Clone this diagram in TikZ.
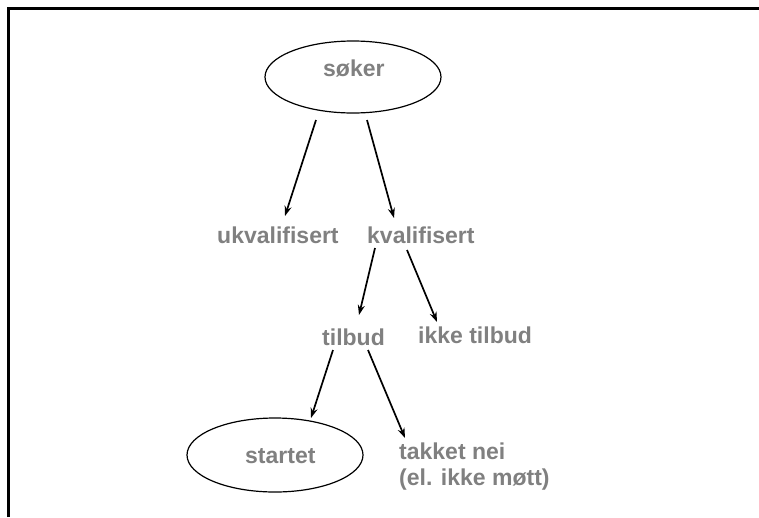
\documentclass[tikz,border=0pt]{standalone}
\usepackage{fontspec}
\setmainfont{Liberation Sans}
\usetikzlibrary{arrows.meta,shapes.geometric}
\definecolor{lbl}{RGB}{128,128,128}
\begin{document}
\begin{tikzpicture}[x=1pt,y=-1pt,
  lab/.style={anchor=base west,inner sep=0pt,text=lbl,font=\fontsize{23}{25.5}\selectfont\bfseries},
  oval/.style={draw=black,line width=1.2pt,ellipse,minimum width=176pt,minimum height=72pt,inner sep=0pt},
  arr/.style={line width=1.7pt,-{Stealth[length=10pt,width=7pt]}},
  frame/.style={line width=3pt}]
\useasboundingbox (0,0) rectangle (759,517);
\draw[frame] (8.5,517) -- (8.5,8.5) -- (759,8.5);
\node[oval] (soker) at (353,77) {};
\node[lab] (sokertxt) at (323,76) {søker};
\node[oval,minimum height=74pt] (startet) at (275,455) {};
\node[lab] (startettxt) at (245,463) {startet};
\node[lab] (ukval) at (217,243) {ukvalifisert};
\node[lab] (kval) at (367,243) {kvalifisert};
\node[lab] (tilbud) at (322,345) {tilbud};
\node[lab] (ikke) at (418,343) {ikke tilbud};
\node[lab,align=left,anchor=north west] (takket) at (399,443) {takket nei\\(el. ikke møtt)};
\coordinate (a1s) at (316,120); \coordinate (a1e) at (285,216);
\coordinate (a2s) at (367,120); \coordinate (a2e) at (394,218);
\coordinate (a3s) at (375,248); \coordinate (a3e) at (359,315);
\coordinate (a4s) at (407,250); \coordinate (a4e) at (437,322);
\coordinate (a5s) at (333,350); \coordinate (a5e) at (311,418);
\coordinate (a6s) at (368,350); \coordinate (a6e) at (405,438);
\draw[arr] (a1s) -- (a1e);
\draw[arr] (a2s) -- (a2e);
\draw[arr] (a3s) -- (a3e);
\draw[arr] (a4s) -- (a4e);
\draw[arr] (a5s) -- (a5e);
\draw[arr] (a6s) -- (a6e);
\end{tikzpicture}
\end{document}
